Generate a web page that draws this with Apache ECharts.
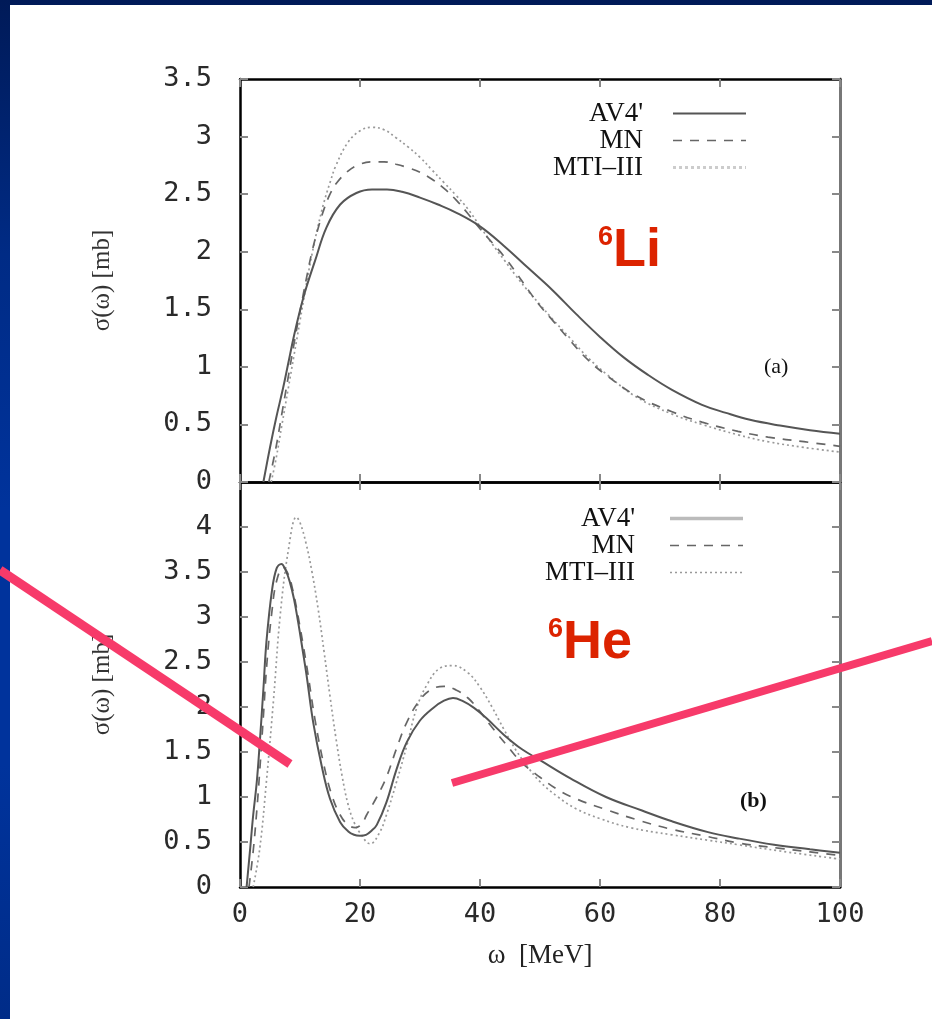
<!DOCTYPE html>
<html>
<head>
<meta charset="utf-8">
<script src="https://cdn.jsdelivr.net/npm/echarts@6/dist/echarts.min.js"></script>
<style>
  html, body { margin: 0; padding: 0; width: 932px; height: 1019px; overflow: hidden; }
  body { background: linear-gradient(to bottom, #001a58 0%, #002b85 25%, #00339c 50%, #00339c 75%, #002c88 100%); }
  #paper { position: absolute; left: 10px; top: 5px; right: 0; bottom: 0; background: #fff; }
  #chart { position: absolute; left: 0; top: 0; width: 932px; height: 1019px; }
</style>
</head>
<body>
<div id="paper"></div>
<div id="chart"></div>
<script>
// x ticks (MeV) shared by both panels
const xTicks = [0, 20, 40, 60, 80, 100]
const seriesNames = ["AV4'", 'MN', 'MTI\u2013III']

// (a) 6Li, sigma(omega) in mb
const liAV4 = [[3.9,0],[5,0.3],[6,0.55],[7.2,0.82],[8,1.02],[9,1.27],[10,1.49],[11,1.68],[12.5,1.92],
  [14.4,2.21],[16.7,2.41],[19.4,2.51],[22,2.54],[24.5,2.54],[27,2.52],[30,2.47],[33,2.41],[36,2.34],
  [40,2.22],[44,2.05],[48,1.86],[52,1.67],[56,1.46],[60,1.26],[64,1.08],[68,0.93],[72,0.8],
  [77,0.67],[81,0.6],[85,0.54],[90,0.49],[95,0.45],[100,0.42]]
const liMN = [[4.8,0],[6,0.3],[7,0.6],[8,0.9],[9,1.2],[10,1.48],[11,1.75],[12,2.0],[13,2.2],[14,2.37],
  [15,2.5],[16,2.59],[18,2.7],[20,2.76],[22,2.78],[24,2.78],[26,2.76],[28,2.73],[30,2.69],[32,2.63],
  [34,2.55],[36,2.45],[38,2.33],[40,2.2],[42,2.08],[44,1.96],[46,1.82],[48,1.67],[50,1.53],[52,1.41],
  [55,1.23],[58,1.06],[61,0.93],[66,0.75],[72,0.61],[77,0.52],[83,0.44],[88,0.39],[94,0.35],[100,0.31]]
const liMTI = [[5.2,0],[6,0.2],[7,0.5],[8,0.8],[9,1.1],[10,1.4],[11,1.7],[12,1.98],[13,2.22],[14,2.43],
  [15,2.6],[16,2.75],[18,2.95],[20,3.05],[22,3.08],[24,3.06],[26,2.99],[28,2.91],[30,2.82],[32,2.71],
  [34,2.6],[36,2.49],[38,2.37],[40,2.22],[42,2.07],[44,1.93],[46,1.79],[48,1.66],[50,1.54],[52,1.42],
  [55,1.25],[58,1.08],[61,0.94],[66,0.74],[72,0.59],[77,0.5],[83,0.41],[88,0.35],[94,0.3],[100,0.26]]

// (b) 6He
const heAV4 = [[1.1,0],[1.7,0.43],[2.2,0.8],[2.8,1.17],[3.3,1.61],[3.9,2.2],[4.4,2.72],[5.3,3.28],
  [6.1,3.54],[6.9,3.59],[7.6,3.52],[8.3,3.39],[9,3.2],[9.7,2.94],[10.4,2.65],[11.1,2.35],[12.2,1.83],
  [13.6,1.35],[15,0.98],[16.7,0.72],[18,0.62],[19,0.58],[20,0.57],[21,0.58],[22,0.63],[22.8,0.69],
  [24.4,0.94],[26.1,1.31],[27.8,1.61],[30,1.85],[32.2,1.99],[34,2.07],[35.5,2.1],[37,2.07],[39,1.99],
  [41,1.88],[44,1.69],[47,1.53],[50,1.41],[55,1.21],[61,1.0],[67,0.85],[72,0.73],[78,0.61],[83,0.54],
  [89,0.47],[95,0.42],[100,0.38]]
const heMN = [[1.5,0],[2.2,0.4],[2.8,0.85],[3.3,1.3],[3.9,1.9],[4.5,2.5],[5.3,3.05],[6.1,3.4],[7.2,3.55],
  [8,3.48],[8.8,3.3],[9.7,3.0],[10.5,2.7],[11.3,2.38],[12.5,1.86],[13.9,1.38],[15.3,1.02],[16.7,0.8],
  [18,0.69],[19.2,0.66],[20.3,0.7],[21.1,0.8],[22.8,1.0],[24.4,1.22],[26.1,1.54],[27.8,1.83],[30,2.08],
  [32,2.2],[34,2.23],[36,2.19],[38,2.1],[40,1.95],[41.7,1.8],[44.4,1.58],[47,1.38],[50,1.22],[53,1.08],
  [56,0.98],[61,0.86],[66,0.75],[72,0.64],[78,0.56],[83,0.49],[90,0.43],[95,0.39],[100,0.35]]
const heMTI = [[2.2,0],[3.3,0.43],[4.4,1.17],[5.6,2.09],[6.7,3.02],[8.1,3.76],[9.4,4.11],[10,4.05],
  [11,3.82],[12,3.5],[13,3.1],[14,2.62],[15,2.12],[16,1.65],[17,1.24],[18,0.92],[19,0.72],[20,0.6],
  [21.7,0.48],[23.3,0.61],[24.4,0.8],[26.1,1.17],[27.8,1.57],[29.4,1.98],[31.1,2.24],[33.3,2.43],
  [35.5,2.46],[38,2.38],[40,2.22],[42,2.0],[44,1.75],[46,1.52],[48,1.33],[50,1.17],[53,1.0],[56,0.87],
  [60,0.76],[65,0.66],[72,0.58],[78,0.52],[83,0.47],[90,0.4],[100,0.31]]

const numFont = 'DejaVu Sans Mono'
const serif = 'Liberation Serif'

const frame = { show: true, onZero: false, lineStyle: { color: '#000', width: 2.5 } }
const ticks = { show: true, inside: true, length: 8, lineStyle: { color: '#888', width: 2 } }

function xAxis(grid, pos, labels) {
  return {
    gridIndex: grid, type: 'value', position: pos, min: 0, max: 100, interval: 20,
    axisLine: frame, axisTick: ticks, splitLine: { show: false },
    axisLabel: { show: labels, margin: 14, fontFamily: numFont, fontSize: 27, color: '#2a2a2a' }
  }
}
function yAxis(grid, pos, max, labels, name) {
  return {
    gridIndex: grid, type: 'value', position: pos, min: 0, max: max, interval: 0.5,
    axisLine: pos === 'right' ? { show: true, onZero: false, lineStyle: { color: '#777', width: 3 } } : frame,
    axisTick: ticks, splitLine: { show: false },
    name: name, nameLocation: 'middle', nameGap: 125,
    nameTextStyle: { fontFamily: serif, fontSize: 25, color: '#333' },
    axisLabel: {
      show: labels, margin: 28, fontFamily: numFont, fontSize: 27, color: '#2a2a2a',
      formatter: v => (v > 4.4 ? '' : String(v))
    }
  }
}

const solid = { color: '#555', width: 2, type: 'solid' }
const dashed = { color: '#666', width: 1.7, type: [9, 8] }
const dotted = { color: '#999', width: 1.7, type: [2, 3] }

function line(name, data, ax, style) {
  return {
    name: name, type: 'line', xAxisIndex: ax, yAxisIndex: ax, data: data,
    symbol: 'none', showSymbol: false, smooth: 0.4,
    lineStyle: style, itemStyle: { color: style.color },
    emphasis: { disabled: true }, animation: false
  }
}

function legend(left, top, styles, gap) {
  return {
    orient: 'vertical', left: left, top: top, align: 'right', selectedMode: false,
    itemWidth: 73, itemHeight: 12, itemGap: 0,
    data: seriesNames.map((n, i) => ({ name: n, lineStyle: styles[i], itemStyle: { opacity: 0 } })),
    formatter: n => '{t|' + n + '}',
    textStyle: {
      rich: { t: { width: 150, align: 'right', fontFamily: serif, fontSize: 27, color: '#111', lineHeight: 29, padding: [0, gap, 0, 0] } }
    }
  }
}

function isotope(x, y, mass, sym) {
  return {
    type: 'text', left: x, top: y, z: 100,
    style: {
      text: '{s|' + mass + '}{b|' + sym + '}',
      rich: {
        s: { fontFamily: 'Liberation Sans', fontWeight: 'bold', fontSize: 27, fill: '#dc2300', verticalAlign: 'top', lineHeight: 26 },
        b: { fontFamily: 'Liberation Sans', fontWeight: 'bold', fontSize: 54, fill: '#dc2300', verticalAlign: 'bottom', lineHeight: 54 }
      }
    }
  }
}

const chart = echarts.init(document.getElementById('chart'), null, { renderer: 'canvas' })
chart.setOption({
  animation: false,
  backgroundColor: 'transparent',
  grid: [
    { left: 240, top: 79, width: 600, height: 403 },
    { left: 240, top: 482, width: 600, height: 405 }
  ],
  xAxis: [xAxis(0, 'bottom', false), xAxis(0, 'top', false), xAxis(1, 'bottom', true), xAxis(1, 'top', false)]
    .map((a, i) => i === 2 ? Object.assign(a, {
      name: '\u03c9  [MeV]', nameLocation: 'middle', nameGap: 55,
      nameTextStyle: { fontFamily: serif, fontSize: 27, color: '#222' }
    }) : a),
  yAxis: [
    yAxis(0, 'left', 3.5, true, '\u03c3(\u03c9) [mb]'), yAxis(0, 'right', 3.5, false),
    yAxis(1, 'left', 4.5, true, '\u03c3(\u03c9) [mb]'), yAxis(1, 'right', 4.5, false)
  ],
  legend: [
    legend(488, 95, [solid, dashed, { color: '#ccc', width: 3, type: [3, 3] }], 25),
    legend(480, 500, [{ color: '#bbb', width: 3.5, type: 'solid' }, dashed, dotted], 30)
  ],
  series: [
    line(seriesNames[2], liMTI, 0, dotted),
    line(seriesNames[1], liMN, 0, dashed),
    line(seriesNames[0], liAV4, 0, solid),
    line(seriesNames[2], heMTI, 2, dotted),
    line(seriesNames[1], heMN, 2, dashed),
    line(seriesNames[0], heAV4, 2, solid)
  ],
  graphic: [
    isotope(598, 224, '6', 'Li'),
    isotope(548, 616, '6', 'He'),
    { type: 'text', left: 764, top: 356, style: { text: '(a)', fontFamily: serif, fontSize: 22, fill: '#111' } },
    { type: 'text', left: 740, top: 790, style: { text: '(b)', fontFamily: serif, fontWeight: 'bold', fontSize: 22, fill: '#111' } },
    { type: 'line', z: 120, shape: { x1: 0, y1: 570, x2: 290, y2: 764 }, style: { stroke: '#f73a6a', lineWidth: 9 } },
    { type: 'line', z: 120, shape: { x1: 452, y1: 783, x2: 932, y2: 641 }, style: { stroke: '#f73a6a', lineWidth: 8 } }
  ]
})
</script>
</body>
</html>
